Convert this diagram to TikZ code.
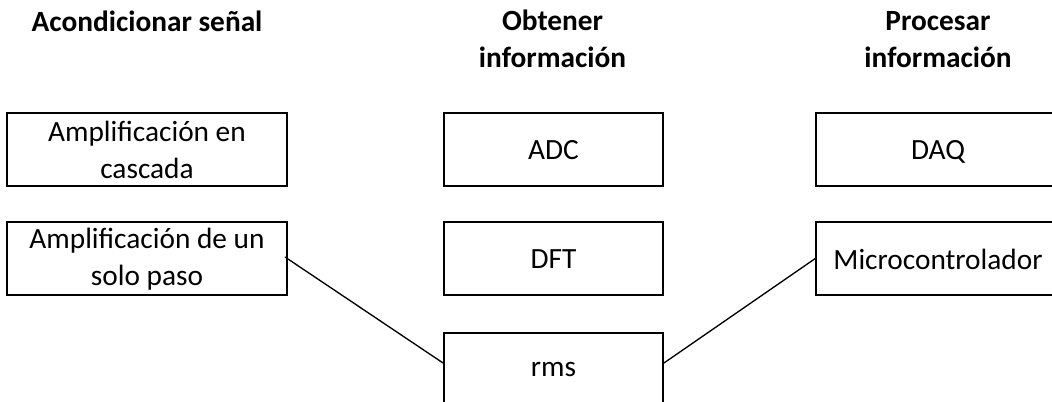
\documentclass[tikz,border=0pt]{standalone}
\usepackage{fontspec}
\setmainfont{Carlito}
\begin{document}
\begin{tikzpicture}[x=0.75pt,y=-0.75pt,
  txt/.style={font=\fontsize{22}{27.75}\selectfont},
  box/.style={txt, draw, line width=1.5pt, minimum height=54.75pt,
    align=center, inner sep=0pt},
  single/.style={text depth=0pt},
  colA/.style={box, minimum width=210pt},
  colB/.style={box, minimum width=164.25pt},
  colC/.style={box, minimum width=183pt},
  head/.style={font=\bfseries\fontsize{22}{27.75}\selectfont, align=center, inner sep=0pt},
  link/.style={line width=1pt}]
\useasboundingbox (0,0) rectangle (1052,402);
\clip (0,0) rectangle (1052,402);

% column headings
\node[head, anchor=base] (hA) at (147,32) {Acondicionar señal};
\node[head, anchor=base] (hB) at (552.5,68) {Obtener\\información};
\node[head, anchor=base] (hC) at (938,68) {Procesar\\información};

% first column: signal conditioning
\node[colA] (a1) at (147,149.5) {Amplificación en\\cascada};
\node[colA] (a2) at (147,259) {Amplificación de un\\solo paso};

% second column: getting information
\node[colB, single] (b1) at (553.5,149.5) {ADC};
\node[colB, single] (b2) at (553.5,259) {DFT};
\node[colB, single] (b3) at (553.5,369.5) {rms};

% third column: processing information
\node[colC, single] (c1) at (938,149.5) {DAQ};
\node[colC, single] (c2) at (938,259) {Microcontrolador};

% chosen path
\draw[link] ([xshift=-2.25pt,yshift=1.5pt]a2.east) -- ([yshift=4.9pt]b3.west);
\draw[link] ([yshift=4.9pt]b3.east) -- ([xshift=0.75pt,yshift=0.75pt]c2.west);
\end{tikzpicture}
\end{document}
